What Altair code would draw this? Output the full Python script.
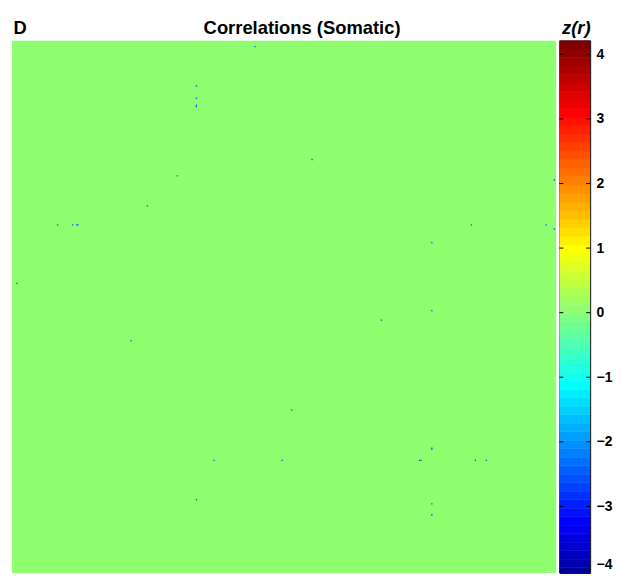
import altair as alt
import pandas as pd
import numpy as np

# ---- data ----
N = 400  # matrix size (cells per side)
background_z = 0.0
dot_rows = [4, 178, 33, 135, 42, 135, 47, 48, 135, 135, 99, 121, 87, 220, 102, 398,
            135, 337, 135, 392, 138, 398, 148, 308, 198, 308, 205, 271,
            299, 300, 308, 308, 308, 340, 308, 348]
dot_cols = [178, 3, 135, 33, 135, 44, 135, 135, 47, 48, 121, 99, 220, 87, 398, 102,
            337, 135, 392, 135, 398, 138, 308, 148, 308, 198, 271, 205,
            308, 308, 299, 300, 340, 308, 348, 308]
dot_z = [-2.4, -2.4, -2.4, -2.4, -2.4, -2.4, -2.4, -2.4, -2.4, -2.4, -2.4, -2.4,
         -2.4, -2.4, -2.4, -2.4, -2.4, -2.4, -2.4, -2.4, -2.4, -2.4, -2.4, -2.4,
         -2.4, -2.4, -2.4, -2.4, -2.4, -2.4, -2.4, -2.4, -2.4, -2.4, -2.4, -2.4]
z_min, z_max = -4.215, 4.215
tick_values = [-4, -3, -2, -1, 0, 1, 2, 3, 4]
title_text = "Correlations (Somatic)"
panel_label = "D"
cbar_title = "z(r)"


# ---- MATLAB jet(64) palette ----
def jet64():
    cols = []
    for k in range(1, 65):
        if k <= 8:
            r, g, b = 0, 0, 0.5 + k / 16
        elif k <= 24:
            r, g, b = 0, (k - 8) / 16, 1
        elif k <= 40:
            r, g, b = (k - 24) / 16, 1, 1 - (k - 24) / 16
        elif k <= 56:
            r, g, b = 1, 1 - (k - 40) / 16, 0
        else:
            r, g, b = 1 - (k - 56) / 16, 0, 0
        cols.append("#%02x%02x%02x" % tuple(int(round(v * 255)) for v in (r, g, b)))
    return cols


jet_colors = jet64()
color_scale = alt.Scale(type="quantize", domain=[z_min, z_max], range=jet_colors)

FONT = "Liberation Sans"
W = 548          # full square heatmap side (px)
H_FULL = 548
H_VIS = 536      # the reference is cropped at the bottom of the page
CBW = 31
frac = H_VIS / H_FULL

bg_df = pd.DataFrame({"x0": [0], "x1": [N], "y0": [0], "y1": [N], "z": [background_z]})
dots_df = pd.DataFrame({"row": dot_rows, "col": dot_cols, "z": dot_z})

xs = alt.Scale(domain=[0, N], nice=False, zero=False)
ys = alt.Scale(domain=[0, N * frac], nice=False, zero=False, reverse=True)

bg = alt.Chart(bg_df).mark_rect(clip=True).encode(
    x=alt.X("x0:Q", scale=xs, axis=None),
    x2="x1:Q",
    y=alt.Y("y0:Q", scale=ys, axis=None),
    y2="y1:Q",
    color=alt.Color("z:Q", scale=color_scale, legend=None),
)

dots = alt.Chart(dots_df).transform_calculate(
    c2="datum.col + 1", r2="datum.row + 1"
).mark_rect(clip=True).encode(
    x=alt.X("col:Q", scale=xs, axis=None),
    x2="c2:Q",
    y=alt.Y("row:Q", scale=ys, axis=None),
    y2="r2:Q",
    color=alt.Color("z:Q", scale=color_scale, legend=None),
)

label_d = alt.Chart(pd.DataFrame({"t": [panel_label]})).mark_text(
    font=FONT, fontSize=18.5, fontWeight="bold", align="left", baseline="alphabetic",
    color="black",
).encode(text="t:N", x=alt.value(1.6), y=alt.value(-6.3))

title = alt.Chart(pd.DataFrame({"t": [title_text]})).mark_text(
    font=FONT, fontSize=18.5, fontWeight="bold", align="center", baseline="alphabetic",
    color="black",
).encode(text="t:N", x=alt.value(292), y=alt.value(-6.3))

heat = alt.layer(bg, dots, label_d, title).properties(
    width=W, height=H_VIS, view=alt.ViewBackground(stroke=None)
)

# ---- colour bar ----
edges = np.linspace(z_min, z_max, len(jet_colors) + 1)
cb_df = pd.DataFrame({"lo": edges[:-1], "hi": edges[1:], "mid": (edges[:-1] + edges[1:]) / 2})
cys = alt.Scale(domain=[z_max - (z_max - z_min) * frac, z_max], nice=False, zero=False)

cb_rects = alt.Chart(cb_df).mark_rect(clip=True, strokeWidth=0.6).encode(
    y=alt.Y("lo:Q", scale=cys, axis=alt.Axis(
        orient="right", values=tick_values, title=None, ticks=False, domain=False,
        grid=False, labelFont=FONT, labelFontSize=14, labelFontWeight="bold",
        labelColor="black", labelPadding=6, labelOverlap=False, labelFlush=False,
        labelOffset={"condition": {"test": "datum.value <= -4", "value": -6}, "value": 0},
        format="d")),
    y2="hi:Q",
    x=alt.value(0),
    x2=alt.value(CBW),
    color=alt.Color("mid:Q", scale=color_scale, legend=None),
    stroke=alt.Color("mid:Q", scale=color_scale, legend=None),
)

tick_df = pd.DataFrame({"v": tick_values})
ticks_left = alt.Chart(tick_df).mark_rule(color="black", strokeWidth=1).encode(
    y=alt.Y("v:Q", scale=cys), x=alt.value(0), x2=alt.value(4)
)
ticks_right = alt.Chart(tick_df).mark_rule(color="black", strokeWidth=1).encode(
    y=alt.Y("v:Q", scale=cys), x=alt.value(CBW - 4), x2=alt.value(CBW)
)
cb_title = alt.Chart(pd.DataFrame({"t": [cbar_title]})).mark_text(
    font=FONT, fontSize=18.5, fontWeight="bold", fontStyle="italic", align="center",
    baseline="alphabetic", color="black",
).encode(text="t:N", x=alt.value(17), y=alt.value(-6.3))

cbar = alt.layer(cb_rects, ticks_left, ticks_right, cb_title).properties(
    width=CBW, height=H_VIS, view=alt.ViewBackground(stroke="black", strokeWidth=1)
)

chart = alt.hconcat(heat, cbar, spacing=3, bounds="flush").resolve_scale(
    color="shared"
).properties(
    padding={"left": 4, "top": 8.8, "right": 0, "bottom": 0}
).configure_view(stroke=None)

chart.save("out.html", embed_options={"renderer": "svg", "actions": False})
